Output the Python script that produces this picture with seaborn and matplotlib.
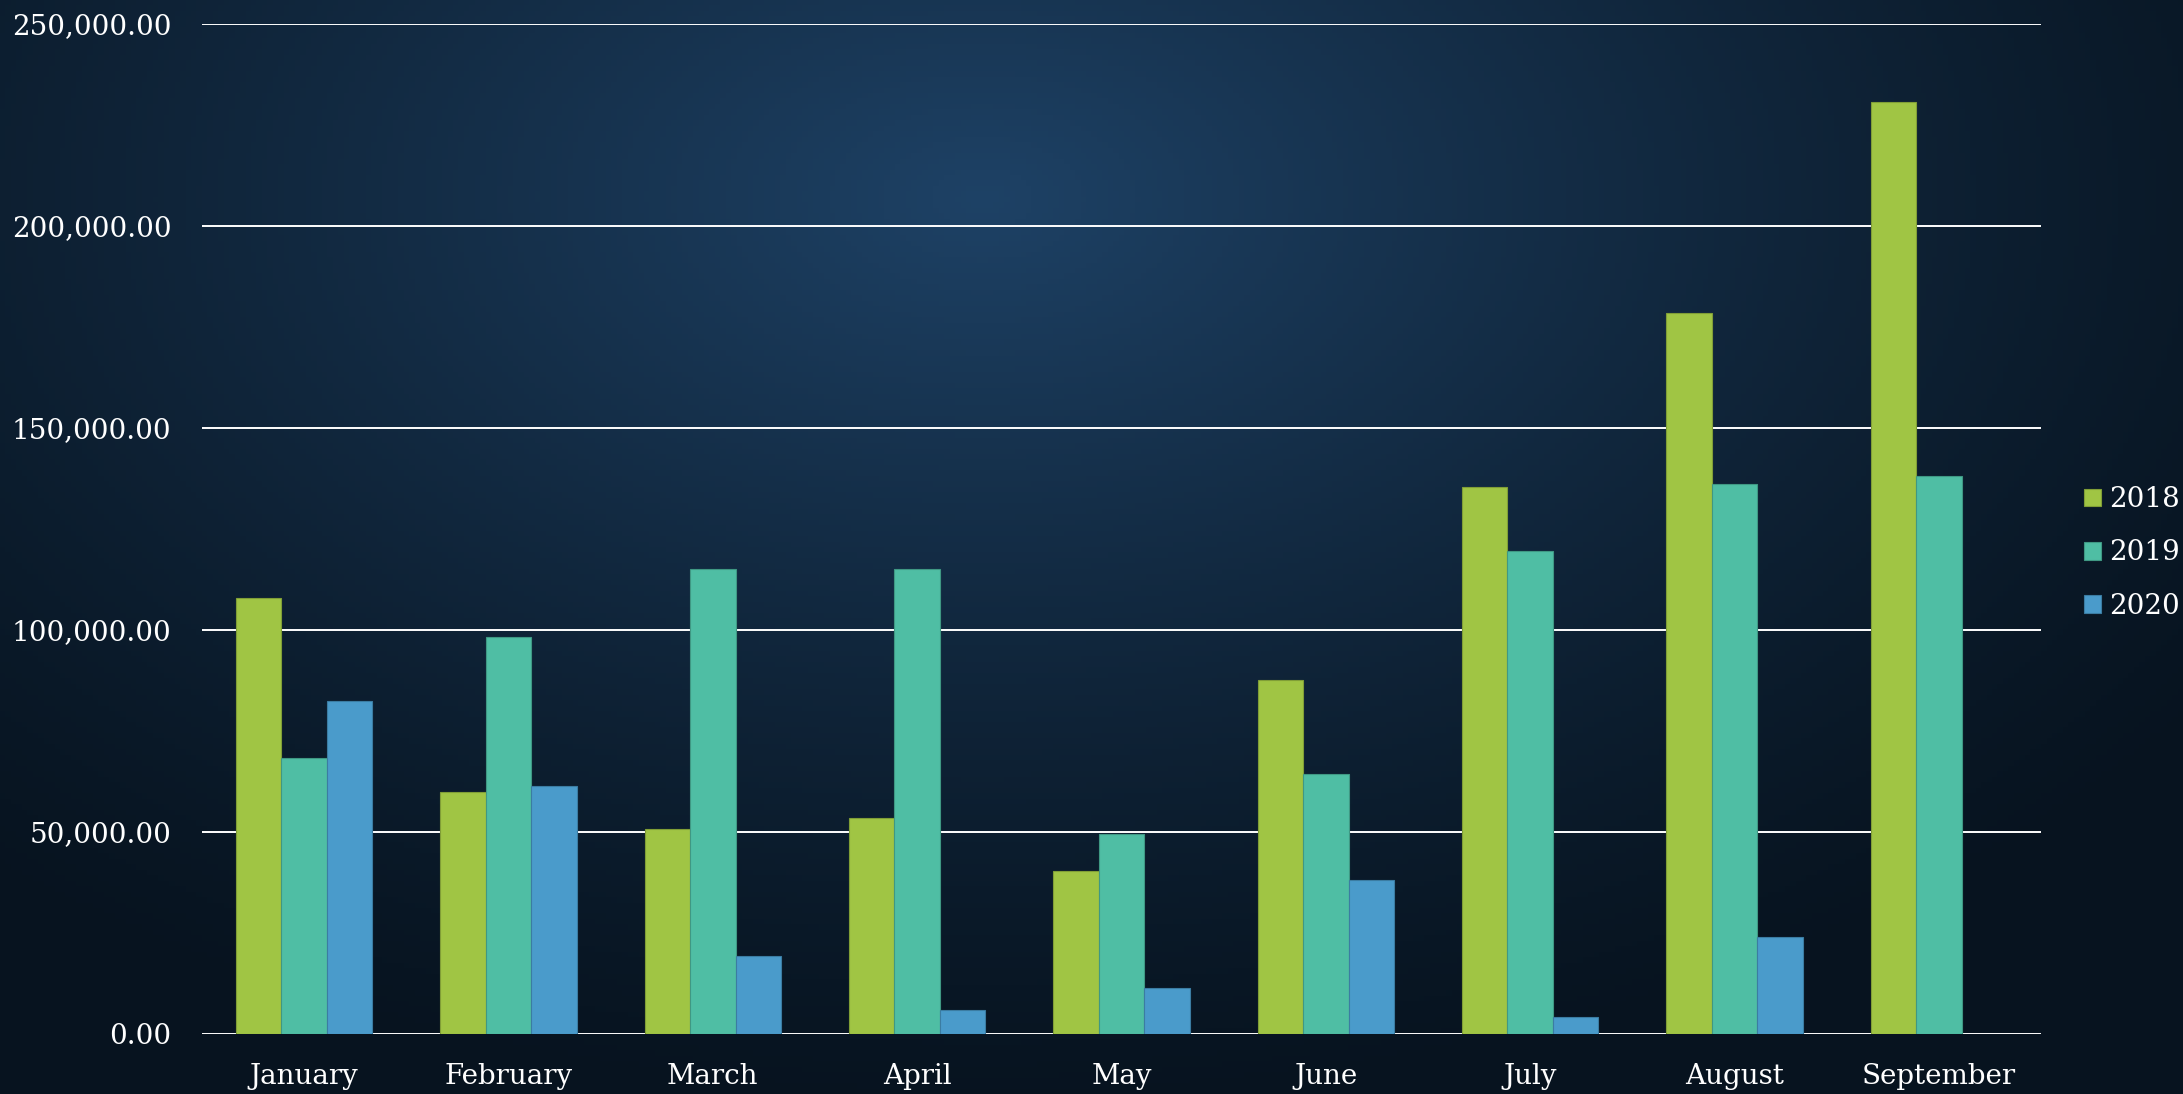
import numpy as np
import pandas as pd
import matplotlib
matplotlib.use("Agg")
import matplotlib.pyplot as plt
import matplotlib.colors as mcolors
from matplotlib.ticker import FuncFormatter
import seaborn as sns

# Data
months = ["January", "February", "March", "April", "May", "June",
          "July", "August", "September"]
years = ["2018", "2019", "2020"]
sales_2018 = [107800, 59900, 50600, 53400, 40300, 87500, 135300, 178400, 230700]
sales_2019 = [68200, 98100, 115000, 115000, 49600, 64400, 119500, 136000, 138100]
sales_2020 = [82300, 61300, 19300, 5900, 11400, 38200, 4100, 24100, np.nan]
y_ticks = [0, 50000, 100000, 150000, 200000, 250000]

colors = ["#A0C544", "#4FBEA4", "#4A9BCB"]

# long table for seaborn
df = pd.DataFrame({
    "month": months * 3,
    "year": [years[0]] * 9 + [years[1]] * 9 + [years[2]] * 9,
    "sales": sales_2018 + sales_2019 + sales_2020,
}).dropna()

sns.set_theme(style="white")
plt.rcParams["font.family"] = ["DejaVu Serif"]

W, H, DPI = 2183, 1094, 100
fig = plt.figure(figsize=(W / DPI, H / DPI), dpi=DPI)

# dark navy background with a lighter glow near the top centre
bg = fig.add_axes([0, 0, 1, 1], zorder=-10)
gx, gy = np.meshgrid(np.linspace(0, 1, 400), np.linspace(0, 1, 200))
dist = np.sqrt(((gx - 0.45) / 0.7) ** 2 + ((gy - 0.18) / 0.85) ** 2)
glow = np.clip(1 - dist, 0, 1) ** 1.3
dark = np.array(mcolors.to_rgb("#07131f"))
light = np.array(mcolors.to_rgb("#1e4266"))
img = dark + (light - dark) * glow[..., None]
bg.imshow(img, aspect="auto", extent=[0, 1, 0, 1], origin="upper")
bg.axis("off")

ax = fig.add_axes([202 / W, 60 / H, (2041 - 202) / W, (1034 - 23.5) / H])
ax.set_facecolor("none")

sns.barplot(data=df, x="month", y="sales", hue="year", order=months,
            hue_order=years, palette=colors, saturation=1, width=0.667,
            errorbar=None, ax=ax, zorder=3)

for p in ax.patches:
    fc = np.array(p.get_facecolor()[:3])
    p.set_edgecolor(fc * 0.8)
    p.set_linewidth(0.8)

ax.set_ylim(0, 250000)
ax.set_yticks(y_ticks)
ax.yaxis.set_major_formatter(FuncFormatter(lambda v, _: f"{v:,.2f}"))
ax.grid(axis="y", color="white", linewidth=1.4, zorder=0)
ax.grid(axis="x", visible=False)
for s in ax.spines.values():
    s.set_visible(False)
ax.tick_params(axis="y", length=0, pad=22, labelsize=20, labelcolor="white")
ax.tick_params(axis="x", length=0, pad=21, labelsize=20, labelcolor="white")
ax.set_xlabel("")
ax.set_ylabel("")

handles, labels = ax.get_legend_handles_labels()
ax.get_legend().remove()
fig.legend(handles, labels, loc="center left",
           bbox_to_anchor=(2076 / W, 1 - 553 / H), frameon=False,
           handlelength=0.6, handleheight=0.6, handletextpad=0.3,
           labelspacing=0.95, fontsize=20, labelcolor="white",
           borderaxespad=0, borderpad=0.3)

fig.savefig("out.png", dpi=DPI)
